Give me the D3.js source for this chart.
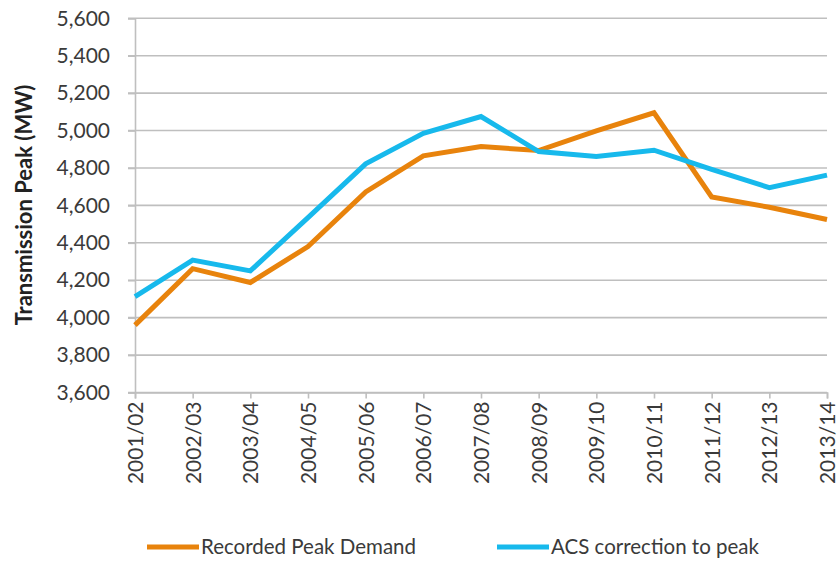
<!DOCTYPE html>
<html><head><meta charset="utf-8">
<script src="https://cdn.jsdelivr.net/npm/d3@7"></script>
<style>body{margin:0;background:#fff;} svg{display:block;}</style>
</head><body>
<svg id="c" width="840" height="561"></svg>
<script>
const categories = ["2001/02","2002/03","2003/04","2004/05","2005/06","2006/07","2007/08","2008/09","2009/10","2010/11","2011/12","2012/13","2013/14"];
const recordedPeak = [3960,4262,4188,4380,4672,4865,4915,4893,4998,5095,4645,4590,4525];
const acsCorrection = [4112,4308,4250,4535,4822,4985,5075,4888,4862,4895,4792,4695,4762];
const yTicks = [3600,3800,4000,4200,4400,4600,4800,5000,5200,5400,5600];
const seriesNames = ["Recorded Peak Demand","ACS correction to peak"];
const colors = ["#E8830C","#17B9EC"];

const svg = d3.select("#c");
const font = "Lato, 'Open Sans', sans-serif";
const L = 135, R = 827, T = 18.3, B = 392.5;
const x = d3.scalePoint().domain(categories).range([L, R]);
const y = d3.scaleLinear().domain([3600,5600]).range([B, T]);
const grid = "#BFBFBF";

// gridlines
svg.append("g").selectAll("line").data(yTicks).join("line")
  .attr("x1", L-7).attr("x2", R).attr("y1", d=>y(d)).attr("y2", d=>y(d))
  .attr("stroke", grid).attr("stroke-width", 1.6);

// y axis
const ya = svg.append("g").attr("transform",`translate(${L},0)`)
  .call(d3.axisLeft(y).tickValues(yTicks).tickSize(7).tickPadding(18).tickFormat(d3.format(",")));
ya.select(".domain").attr("stroke", grid).attr("stroke-width",1.6);
ya.selectAll(".tick line").attr("stroke", grid).attr("stroke-width",1.6);
ya.selectAll("text").attr("font-family", font).attr("font-size", 21).attr("fill","#3a3a3a");

// x axis
const xa = svg.append("g").attr("transform",`translate(0,${B})`)
  .call(d3.axisBottom(x).tickSize(6).tickPadding(8));
xa.select(".domain").attr("stroke", grid).attr("stroke-width",1.6);
xa.selectAll(".tick line").attr("stroke", grid).attr("stroke-width",1.6);
xa.selectAll("text").attr("font-family", font).attr("font-size", 21).attr("fill","#3a3a3a")
  .attr("transform","rotate(-90)").attr("text-anchor","end")
  .attr("x",-9).attr("y",0).attr("dy","0.35em");

// y title
svg.append("text").attr("transform",`translate(32,205) rotate(-90)`)
  .attr("text-anchor","middle").attr("font-family", font).attr("font-weight","bold")
  .attr("font-size", 22).attr("fill","#222").text("Transmission Peak (MW)");

// lines
const line = d3.line().x((d,i)=>x(categories[i])).y(d=>y(d));
[recordedPeak, acsCorrection].forEach((s,i)=>{
  svg.append("path").datum(s).attr("d", line).attr("fill","none")
    .attr("stroke", colors[i]).attr("stroke-width", 5).attr("stroke-linejoin","miter");
});

// legend
const legX = [147, 497];
seriesNames.forEach((n,i)=>{
  svg.append("line").attr("x1", legX[i]).attr("x2", legX[i]+52).attr("y1",547).attr("y2",547)
    .attr("stroke", colors[i]).attr("stroke-width",5);
  svg.append("text").attr("x", legX[i]+54).attr("y",547).attr("dy","0.35em")
    .attr("font-family", font).attr("font-size", 20.5).attr("fill","#3a3a3a").text(n);
});
</script>
</body></html>
